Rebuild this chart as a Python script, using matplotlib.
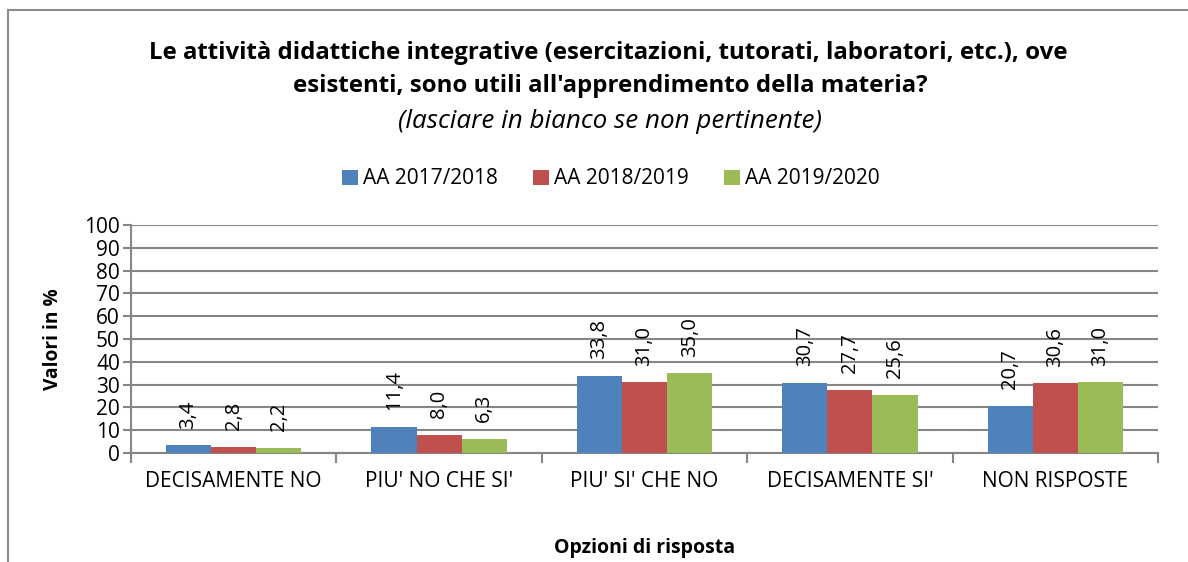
import numpy as np
import matplotlib.pyplot as plt
from matplotlib.lines import Line2D

plt.rcParams['font.family'] = ['Open Sans', 'DejaVu Sans']

categories = ["DECISAMENTE NO", "PIU' NO CHE SI'", "PIU' SI' CHE NO",
              "DECISAMENTE SI'", "NON RISPOSTE"]
series_names = ["AA 2017/2018", "AA 2018/2019", "AA 2019/2020"]
aa_2017 = [3.4, 11.4, 33.8, 30.7, 20.7]
aa_2018 = [2.8, 8.0, 31.0, 27.7, 30.6]
aa_2019 = [2.2, 6.3, 35.0, 25.6, 31.0]
colors = ["#4F81BD", "#C0504D", "#9BBB59"]

fig = plt.figure(figsize=(11.88, 5.62), dpi=100)
ax = fig.add_axes([131 / 1188, 109 / 562, 1027 / 1188, 228 / 562])

# outer chart frame (only top and left visible in the crop)
fig.add_artist(Line2D([8 / 1188, 1.0], [1 - 10 / 562, 1 - 10 / 562],
                      transform=fig.transFigure, color="#8c8c8c", lw=1.5))
fig.add_artist(Line2D([8 / 1188, 8 / 1188], [0.0, 1 - 10 / 562],
                      transform=fig.transFigure, color="#8c8c8c", lw=1.5))

x = np.arange(len(categories))
w = 0.22
for i, (vals, name, c) in enumerate(zip([aa_2017, aa_2018, aa_2019], series_names, colors)):
    pos = x + (i - 1) * w
    ax.bar(pos, vals, width=w, color=c, label=name, zorder=3)
    for px, v in zip(pos, vals):
        ax.annotate(f"{v:.1f}".replace(".", ","), (px, v), xytext=(0, 12),
                    textcoords="offset points", rotation=90, ha="center",
                    va="bottom", fontsize=14.5, zorder=4)

ax.set_xlim(-0.5, len(categories) - 0.5)
ax.set_ylim(0, 100)
ax.set_yticks(range(0, 101, 10))
ax.tick_params(axis="y", labelsize=15, length=6, color="#868686", width=1.5, pad=2)
ax.yaxis.grid(True, color="#868686", lw=1.5, zorder=0)
ax.set_xticks(x)
ax.set_xticklabels(categories, fontsize=15)
ax.tick_params(axis="x", length=0, pad=13)
# category separator ticks
ax.set_xticks(np.arange(-0.5, len(categories)), minor=True)
ax.tick_params(axis="x", which="minor", length=7, color="#868686", width=1.5)

for s in ["top", "right"]:
    ax.spines[s].set_visible(False)
for s in ["left", "bottom"]:
    ax.spines[s].set_color("#868686")
    ax.spines[s].set_linewidth(1.5)

ax.set_ylabel("Valori in %", fontsize=13.8, fontweight="bold")
ax.yaxis.set_label_coords(-68 / 1027, 0.5)
fig.text(645 / 1188, 1 - 548 / 562, "Opzioni di risposta", ha="center", va="center",
         fontsize=14, fontweight="bold")

fig.text(608 / 1188, 1 - 53 / 562,
         "Le attività didattiche integrative (esercitazioni, tutorati, laboratori, etc.), ove",
         ha="center", va="center", fontsize=17.3, fontweight="bold")
fig.text(610 / 1188, 1 - 86 / 562, "esistenti, sono utili all'apprendimento della materia?",
         ha="center", va="center", fontsize=17.3, fontweight="bold")
fig.text(610 / 1188, 1 - 121 / 562, "(lasciare in bianco se non pertinente)",
         ha="center", va="center", fontsize=18.7, style="italic")

fig.legend(loc="center", bbox_to_anchor=(611 / 1188, 1 - 179 / 562), ncol=3,
           frameon=False, fontsize=15, handlelength=0.75, handleheight=0.75,
           handletextpad=0.25, columnspacing=1.7)

fig.savefig("out.png", dpi=100)
